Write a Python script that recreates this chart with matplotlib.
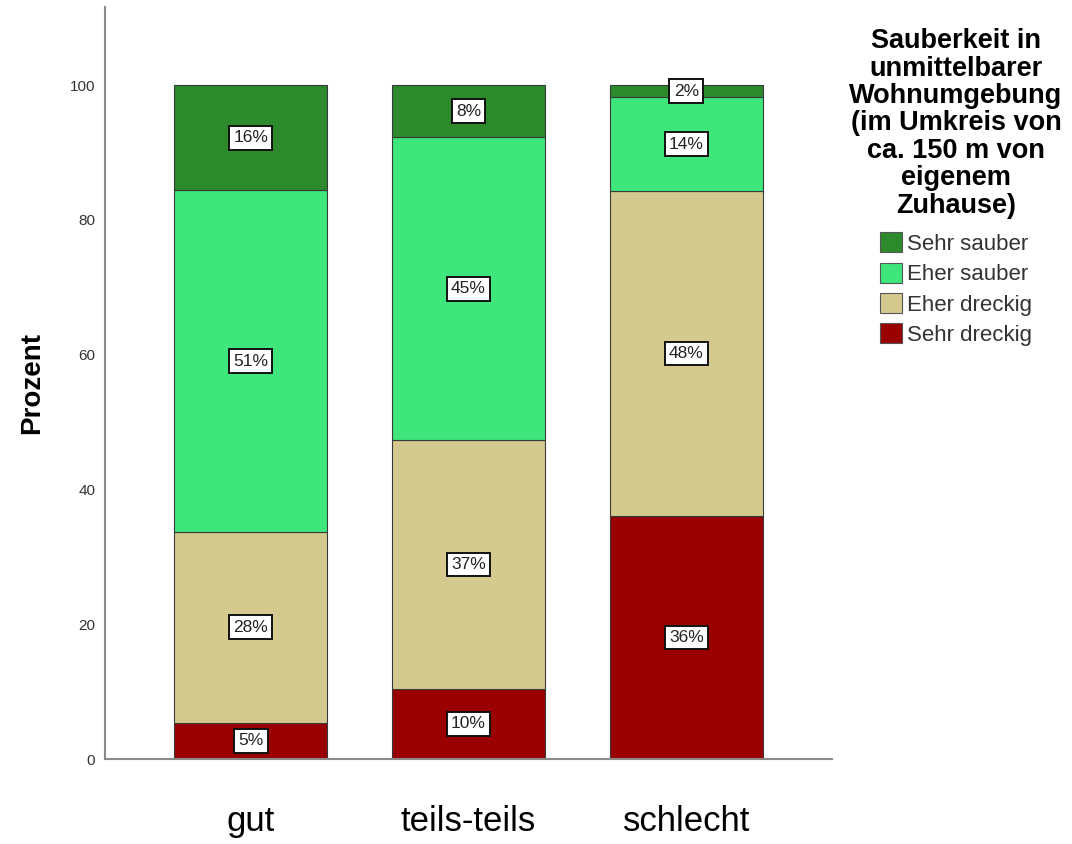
import matplotlib
matplotlib.use("Agg")
import matplotlib.pyplot as plt
from matplotlib.patches import Patch

# data
groups = ["gut", "teils-teils", "schlecht"]
categories = ["Sehr dreckig", "Eher dreckig", "Eher sauber", "Sehr sauber"]
sehr_dreckig = [5.4, 10.4, 36.1]
eher_dreckig = [28.3, 36.9, 48.2]
eher_sauber = [50.7, 45.0, 13.9]
sehr_sauber = [15.6, 7.7, 1.8]
y_ticks = [0, 20, 40, 60, 80, 100]
legend_title = ("Sauberkeit in\nunmittelbarer\nWohnumgebung\n(im Umkreis von\n"
                "ca. 150 m von\neigenem\nZuhause)")

colors = ["#9b0000", "#d4c98f", "#3fe67c", "#2c8a2c"]

plt.rcParams['font.family'] = ['Liberation Sans', 'DejaVu Sans']


def main():
    fig = plt.figure(figsize=(10.72, 8.44), dpi=100)
    ax = fig.add_axes([0.098, 0.1007, 0.678, 0.891])

    series = [sehr_dreckig, eher_dreckig, eher_sauber, sehr_sauber]
    x = list(range(len(groups)))
    bottom = [0.0] * len(groups)
    for values, color in zip(series, colors):
        ax.bar(x, values, width=0.70, bottom=bottom, color=color,
               edgecolor="#3a3a3a", linewidth=0.8, zorder=2)
        for xi, v, b in zip(x, values, bottom):
            ax.text(xi, b + v / 2, f"{v:.0f}%", ha="center", va="center",
                    fontsize=12.5, color="#222222", zorder=4,
                    bbox=dict(boxstyle="square,pad=0.25", facecolor="white",
                              edgecolor="#111111", linewidth=1.4))
        bottom = [b + v for b, v in zip(bottom, values)]

    ax.set_xlim(-0.668, 2.668)
    ax.set_ylim(0, 111.6)
    ax.set_yticks(y_ticks)
    ax.set_yticklabels([str(t) for t in y_ticks])
    ax.set_xticks(x)
    ax.set_xticklabels(groups, fontsize=25)
    ax.tick_params(axis="x", length=0, pad=33, colors="black")
    ax.tick_params(axis="y", length=0, pad=7, labelsize=11,
                   labelcolor="#333333")

    for side in ["top", "right"]:
        ax.spines[side].set_visible(False)
    for side in ["left", "bottom"]:
        ax.spines[side].set_color("#8a8a8a")
        ax.spines[side].set_linewidth(1.5)

    ax.set_ylabel("Prozent", fontsize=20, fontweight="bold")
    ax.yaxis.set_label_coords(-0.083, 0.5)

    handles = [Patch(facecolor=c, edgecolor="#555555", linewidth=0.8)
               for c in colors[::-1]]
    leg = fig.legend(handles, categories[::-1], loc="upper center",
                     bbox_to_anchor=(956 / 1072, 1 - 17 / 844),
                     frameon=False, fontsize=16, title=legend_title,
                     handlelength=1.0, handleheight=1.0, handletextpad=0.25,
                     labelspacing=0.35, borderpad=0.0)
    title = leg.get_title()
    title.set_fontsize(19.5)
    title.set_fontweight("bold")
    title.set_linespacing(1.07)
    title.set_ha("center")
    # a bit more room between title and entries, as in the reference
    leg._legend_box.sep = 10
    for t in leg.get_texts():
        t.set_color("#333333")

    fig.savefig("out.png", dpi=100)
    plt.close("all")


if __name__ == "__main__":
    main()
